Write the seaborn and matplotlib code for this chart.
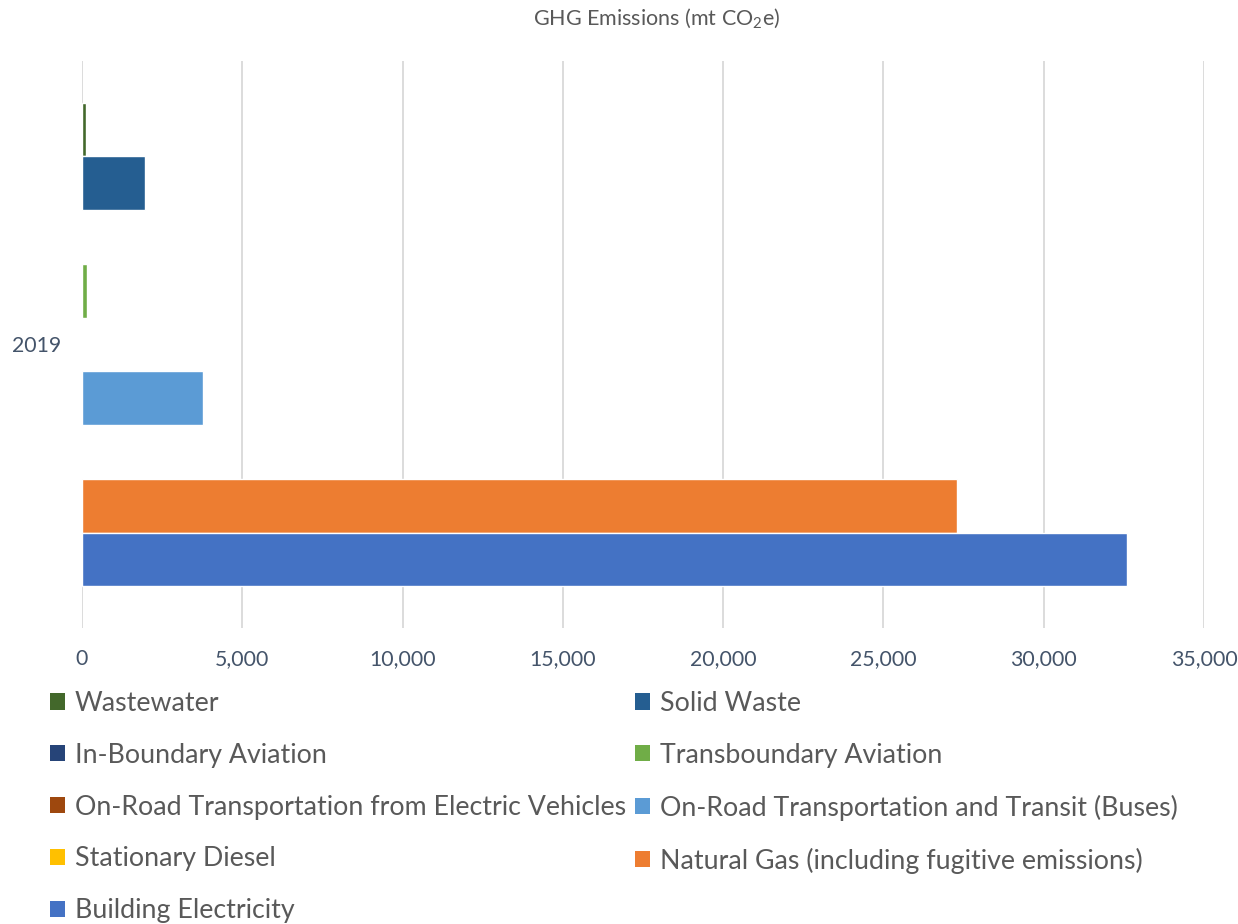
import pandas as pd
import seaborn as sns
import matplotlib.pyplot as plt
from matplotlib.patches import Patch
from matplotlib.ticker import FuncFormatter

# =========================
# Datos
# =========================
year = ["2019"]
sectors = [
    "Wastewater",
    "Solid Waste",
    "In-Boundary Aviation",
    "Transboundary Aviation",
    "On-Road Transportation from Electric Vehicles",
    "On-Road Transportation and Transit (Buses)",
    "Stationary Diesel",
    "Natural Gas (including fugitive emissions)",
    "Building Electricity",
]
emissions = [110, 1970, 0, 150, 10, 3780, 0, 27300, 32600]
colors = ["#43682B", "#255E91", "#264478", "#70AD47", "#9E480E",
          "#5B9BD5", "#FFC000", "#ED7D31", "#4472C4"]

df = pd.DataFrame({"year": year * len(sectors), "sector": sectors, "emissions": emissions})

# =========================
# Estilo
# =========================
sns.set_style("white")
plt.rcParams["font.family"] = ["Lato", "DejaVu Sans"]
plt.rcParams["mathtext.fontset"] = "custom"
plt.rcParams["mathtext.rm"] = "Lato"
plt.rcParams["mathtext.it"] = "Lato"

fig = plt.figure(figsize=(12.38, 9.24), dpi=100)
ax = fig.add_axes([82 / 1238, 1 - 628 / 924, (1204 - 82) / 1238, (628 - 61) / 924])

sns.barplot(
    data=df, x="emissions", y="year", hue="sector", hue_order=sectors,
    palette=colors, orient="h", width=0.853, gap=0, saturation=1,
    legend=False, ax=ax,
)

ax.set_xlim(0, 35000)
ax.set_xticks(range(0, 35001, 5000))
ax.xaxis.set_major_formatter(FuncFormatter(lambda v, p: f"{int(v):,}"))
ax.set_axisbelow(True)
ax.xaxis.grid(True, color="#D9D9D9", lw=1.3)
ax.yaxis.grid(False)
for s in ax.spines.values():
    s.set_visible(False)
ax.tick_params(axis="x", length=0, pad=15, labelsize=15.3, labelcolor="#44546A")
ax.tick_params(axis="y", length=0, pad=15, labelsize=15.3, labelcolor="#44546A")
ax.set_xlabel("")
ax.set_ylabel("")

fig.text(657 / 1238, 1 - 18 / 924, r"GHG Emissions (mt CO$_2$e)", ha="center", va="center",
         fontsize=15.5, color="#595959")

# Leyenda en dos columnas, orden por filas
handles = [Patch(facecolor=c, edgecolor="none") for c in colors]
order = [0, 2, 4, 6, 8, 1, 3, 5, 7]
leg = fig.legend(
    [handles[i] for i in order], [sectors[i] for i in order],
    ncol=2, loc="upper left", bbox_to_anchor=(50 / 1238, 1 - 691 / 924),
    frameon=False, fontsize=19.3, handlelength=0.55, handleheight=0.55,
    handletextpad=0.38, columnspacing=0.33, labelspacing=1.0,
    borderpad=0, borderaxespad=0,
)
for t in leg.get_texts():
    t.set_color("#595959")

fig.savefig("out.png", dpi=100)
